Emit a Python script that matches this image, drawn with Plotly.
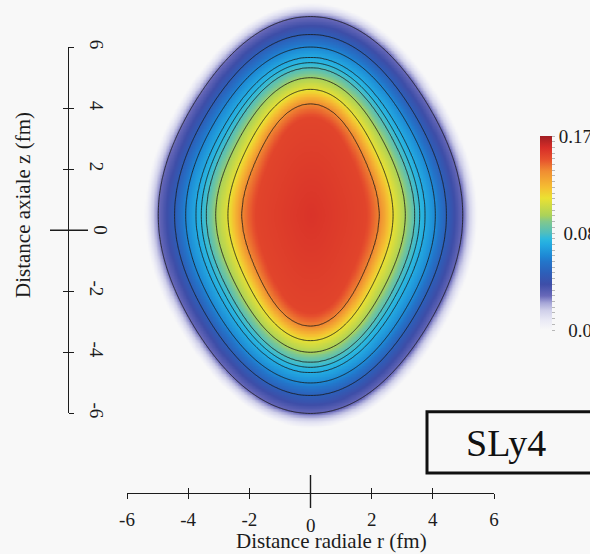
import numpy as np
import plotly.graph_objects as go

# Iso-density levels drawn as black lines (fm^-3)
contour_levels = [0.03, 0.05, 0.065, 0.075, 0.08, 0.085, 0.10, 0.115, 0.14]
# Distance from the centre (fm) at which each iso-line crosses the r axis,
# the 45 degree diagonal and the z axis
iso_at_0 = [4.98, 4.44, 4.08, 3.74, 3.57, 3.41, 3.10, 2.70, 2.25]
iso_at_45 = [5.30, 4.75, 4.38, 4.03, 3.86, 3.70, 3.38, 2.99, 2.53]
iso_at_90 = [6.49, 5.90, 5.49, 5.15, 4.98, 4.82, 4.49, 4.11, 3.64]
# Fade-out of the surface and the saturated centre (same three directions)
edge_density = 0.0
edge_radius = [5.43, 5.75, 6.94]
plateau_density = 0.153
plateau_radius = [1.80, 2.08, 3.19]
core_density = 0.158

# Ruler ticks and colour bar labels
ruler_ticks = [-6, -4, -2, 0, 2, 4, 6]
cbar_min, cbar_max = 0.0, 0.17
cbar_step = 0.005
cbar_labels = {0.17: "0.17", 0.085: "\u00a00.085", 0.0: "\u00a0\u00a00.0"}

W, H = 590, 554
BG = "#f8f8f8"
INK = "#1c1c1c"
FONT = "Liberation Serif"


def fx(px):
    return px / W


def fy(py):
    return 1 - py / H


# page geometry in pixels
rx_left, rx_right, rx_y = 127, 494, 493
ry_top, ry_bottom, ry_x = 47.3, 413.3, 68
nucleus_py = 215
px_per_fm = (rx_right - rx_left) / (ruler_ticks[-1] - ruler_ticks[0])

# ---- density field rho(r, z) ------------------------------------------
r_grid = np.linspace(-5.8, 5.8, 233)
z_grid = np.linspace(-7.3, 7.3, 293)
RR, ZZ = np.meshgrid(r_grid, z_grid)
dist = np.hypot(RR, ZZ)
theta = np.arctan2(ZZ, RR)
cos2, cos4 = np.cos(2 * theta), np.cos(4 * theta)


def iso_radius(a, d, b):
    # 1/R^2 as an even cosine series: an ellipse plus a cos(4 theta) squareness term
    u0, u45, u90 = 1 / a ** 2, 1 / d ** 2, 1 / b ** 2
    mean = (u0 + u90) / 2
    c0, c1, c2 = (mean + u45) / 2, (u0 - u90) / 2, (mean - u45) / 2
    return 1 / np.sqrt(c0 + c1 * cos2 + c2 * cos4)


profile_density = [core_density, plateau_density] + contour_levels[::-1] + [edge_density]
profile_shape = ([tuple(plateau_radius)]
                 + list(zip(iso_at_0, iso_at_45, iso_at_90))[::-1]
                 + [tuple(edge_radius)])

radii = [np.zeros_like(dist)] + [iso_radius(*s) for s in profile_shape]

density = np.zeros_like(dist)
for k in range(len(radii) - 1):
    r0, r1 = radii[k], radii[k + 1]
    d0, d1 = profile_density[k], profile_density[k + 1]
    inside = (dist >= r0) & (dist < r1)
    density = np.where(inside, d0 + (d1 - d0) * (dist - r0) / (r1 - r0), density)

# level index field so the non-uniform iso-lines become integer contours
level_index = np.interp(density, [cbar_min] + contour_levels + [cbar_max],
                        np.arange(len(contour_levels) + 2))

colorscale = [
    [0.000, "rgb(248,248,248)"],
    [0.050, "rgb(233,233,245)"],
    [0.100, "rgb(208,208,234)"],
    [0.140, "rgb(165,165,215)"],
    [0.176, "rgb(105,105,185)"],
    [0.235, "rgb(62,78,168)"],
    [0.294, "rgb(45,95,185)"],
    [0.353, "rgb(35,118,202)"],
    [0.380, "rgb(30,135,212)"],
    [0.440, "rgb(35,170,225)"],
    [0.470, "rgb(45,185,222)"],
    [0.500, "rgb(80,190,190)"],
    [0.560, "rgb(130,200,140)"],
    [0.590, "rgb(170,210,90)"],
    [0.680, "rgb(235,225,50)"],
    [0.735, "rgb(245,190,50)"],
    [0.820, "rgb(240,140,50)"],
    [0.880, "rgb(230,80,45)"],
    [0.940, "rgb(215,45,40)"],
    [1.000, "rgb(160,30,35)"],
]

cbar_ticks = [round(cbar_step * i, 3) for i in range(int(round(cbar_max / cbar_step)) + 1)]
cbar_text = [cbar_labels.get(v, "") for v in cbar_ticks]

tick_font = dict(family=FONT, size=19, color=INK)
title_font = dict(family=FONT, size=21, color=INK)

fig = go.Figure()
fig.add_trace(go.Heatmap(
    x=r_grid, y=z_grid, z=np.round(density, 5),
    zmin=cbar_min, zmax=cbar_max, zsmooth="best",
    colorscale=colorscale, hoverinfo="skip",
    colorbar=dict(
        x=fx(540), xanchor="left", y=fy(233), yanchor="middle",
        lenmode="pixels", len=194, thicknessmode="pixels", thickness=11.5,
        xpad=0, ypad=0, outlinewidth=0,
        tickmode="array", tickvals=cbar_ticks, ticktext=cbar_text,
        ticks="outside", ticklen=3.5, tickwidth=1, tickcolor="#b8b8b8",
        tickfont=tick_font,
    ),
))
fig.add_trace(go.Contour(
    x=r_grid, y=z_grid, z=np.round(level_index, 4),
    contours=dict(start=1, end=len(contour_levels), size=1, coloring="none"),
    line=dict(color="rgba(25,25,25,0.9)", width=0.9, smoothing=0.8),
    showscale=False, hoverinfo="skip",
))
# empty traces so the ruler axes get drawn
for xa, ya in (("x", "y2"), ("x2", "y"), ("x", "y3")):
    fig.add_trace(go.Scatter(x=[None], y=[None], xaxis=xa, yaxis=ya,
                             mode="markers", showlegend=False, hoverinfo="skip"))

x_ticktext = ["" if v == 0 else str(v) for v in ruler_ticks]
common_ruler = dict(range=[ruler_ticks[0], ruler_ticks[-1]], tickmode="array",
                    tickvals=ruler_ticks, showgrid=False, zeroline=False,
                    tickwidth=1.2, tickcolor=INK, fixedrange=True, automargin=False)

fig.update_layout(
    width=W, height=H, margin=dict(l=0, r=0, t=0, b=0, autoexpand=False),
    paper_bgcolor=BG, plot_bgcolor="rgba(0,0,0,0)", showlegend=False,
    xaxis=dict(domain=[fx(rx_left), fx(rx_right)], anchor="free", position=fy(rx_y),
               showline=True, linecolor=INK, linewidth=1.2,
               ticks="outside", ticklen=5, ticktext=x_ticktext,
               tickfont=tick_font, ticklabelstandoff=4, **common_ruler),
    xaxis2=dict(domain=[fx(rx_left), fx(rx_right)], overlaying="x", anchor="free",
                position=fy(rx_y), side="bottom", ticks="inside", ticklen=5,
                showticklabels=False, showline=False, **common_ruler),
    yaxis=dict(domain=[0, 1],
               range=[-(H - nucleus_py) / px_per_fm, nucleus_py / px_per_fm],
               visible=False, fixedrange=True),
    yaxis2=dict(domain=[fy(ry_bottom), fy(ry_top)], anchor="free", position=fx(ry_x),
                side="right", showline=True, linecolor=INK, linewidth=1.2,
                ticks="outside", ticklen=5, ticktext=x_ticktext, tickangle=90,
                tickfont=tick_font, ticklabelstandoff=8, **common_ruler),
    yaxis3=dict(domain=[fy(ry_bottom), fy(ry_top)], overlaying="y2", anchor="free",
                position=fx(ry_x), side="right", ticks="inside", ticklen=5,
                showticklabels=False, showline=False, **common_ruler),
    shapes=[
        # long centre ticks
        dict(type="line", xref="x", yref="paper", x0=0, x1=0, y0=fy(475), y1=fy(508),
             line=dict(color=INK, width=1.4)),
        dict(type="line", xref="paper", yref="y2", x0=fx(50), x1=fx(88), y0=0, y1=0,
             line=dict(color=INK, width=1.4)),
        # model label frame
        dict(type="rect", xref="paper", yref="paper", x0=fx(427), x1=fx(620),
             y0=fy(473), y1=fy(411.7), line=dict(color="#111111", width=3),
             fillcolor=BG, layer="above"),
    ],
    annotations=[
        dict(text="0", x=0, xref="x", y=fy(525), yref="paper", showarrow=False,
             font=tick_font, xanchor="center", yanchor="middle"),
        dict(text="0", x=fx(101), xref="paper", y=0, yref="y2", showarrow=False,
             font=tick_font, textangle=90, xanchor="center", yanchor="middle"),
        dict(text="Distance radiale r (fm)", x=fx(331), y=fy(541), xref="paper",
             yref="paper", showarrow=False, font=title_font,
             xanchor="center", yanchor="middle"),
        dict(text="Distance axiale z (fm)", x=fx(23), y=fy(205), xref="paper",
             yref="paper", showarrow=False, textangle=-90, font=title_font,
             xanchor="center", yanchor="middle"),
        dict(text="SLy4", x=fx(506), y=fy(443), xref="paper", yref="paper",
             showarrow=False, font=dict(family=FONT, size=38, color="#111111"),
             xanchor="center", yanchor="middle"),
    ],
)

fig.write_html("out.html")
